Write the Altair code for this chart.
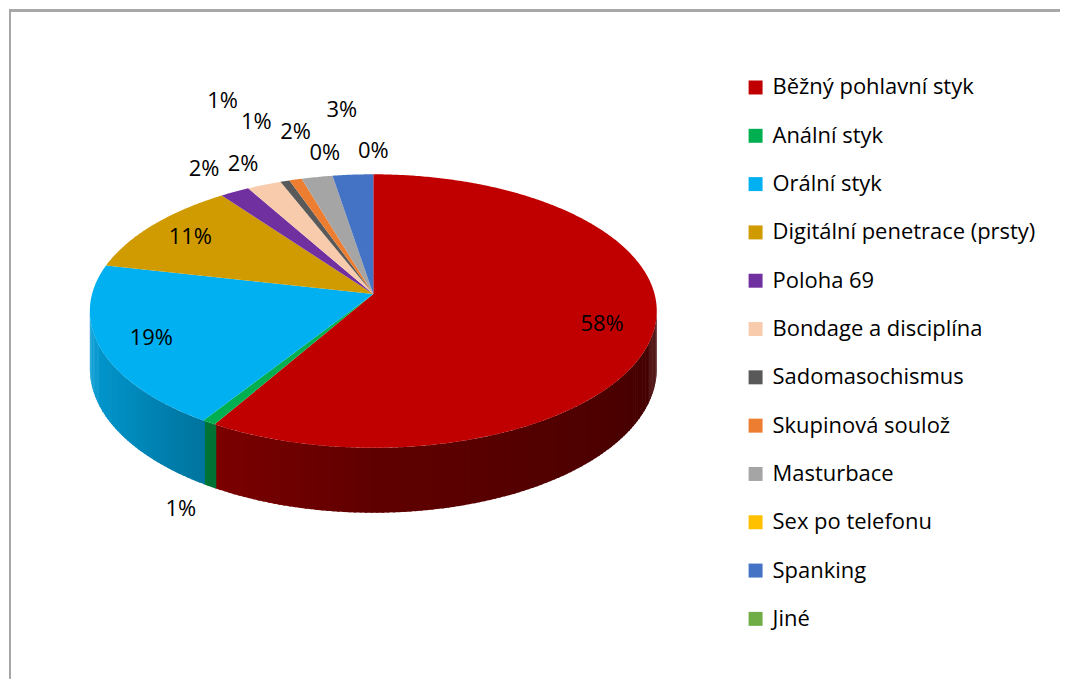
import math
import altair as alt
import pandas as pd

# ---------------- data ----------------
categories = [
    "Běžný pohlavní styk", "Anální styk", "Orální styk",
    "Digitální penetrace (prsty)", "Poloha 69", "Bondage a disciplína",
    "Sadomasochismus", "Skupinová soulož", "Masturbace",
    "Sex po telefonu", "Spanking", "Jiné",
]
values = [58.4, 0.7, 19.4, 11.4, 1.9, 2.2, 0.6, 0.8, 2.0, 0.0, 2.6, 0.0]
colors = [
    "#C00000", "#00B050", "#00B0F0", "#D09B00", "#7030A0", "#F8CBAD",
    "#595959", "#ED7D31", "#A5A5A5", "#FFC000", "#4472C4", "#70AD47",
]
# data-label distance from the pie centre (fraction of the radius)
label_radius = [0.82, 1.15, 0.82, 0.82, 1.25, 1.22, 1.86, 1.6, 1.45, 1.22, 1.65, 1.22]

# ---------------- layout / 3D look ----------------
W, H = 1053, 670          # plot area (page offset 8px)
CX, CY = 365.0, 285.0     # pie apex
A, B, K = 281.8, 134.9, 0.124   # horizontal, vertical radius, perspective
D = 57.0                  # depth of the pie side
FONT = "Open Sans"
FS = 22

total = sum(values)


def proj(theta_deg, f=1.0, z=0.0):
    t = math.radians(theta_deg)
    u = f * math.sin(t)
    v = -f * math.cos(t)
    d = 1 - K * v
    return CX + A * u / d, CY + B * v / d + z * D / d


shade_pts = [(97, 0.33), (180, 0.50), (212, 0.66), (235, 0.80), (263, 0.90)]


def shade(hexcol, ang):
    if ang <= shade_pts[0][0]:
        s = shade_pts[0][1]
    elif ang >= shade_pts[-1][0]:
        s = shade_pts[-1][1]
    else:
        for (a0, s0), (a1, s1) in zip(shade_pts[:-1], shade_pts[1:]):
            if a0 <= ang <= a1:
                s = s0 + (s1 - s0) * (ang - a0) / (a1 - a0)
                break
    r = int(hexcol[1:3], 16); g = int(hexcol[3:5], 16); b = int(hexcol[5:7], 16)
    return "#%02x%02x%02x" % (int(r * s), int(g * s), int(b * s))


# slice boundaries (clockwise from 12 o'clock)
bounds = []
cum = 0.0
for v in values:
    t0 = cum / total * 360
    cum += v
    t1 = cum / total * 360
    bounds.append((t0, t1))

# top faces
top_rows = []
for i, (t0, t1) in enumerate(bounds):
    n = max(2, int(math.ceil((t1 - t0) / 0.5)) + 1)
    pts = [(CX, CY)] + [proj(t0 + (t1 - t0) * j / (n - 1)) for j in range(n)]
    for k, (x, y) in enumerate(pts):
        top_rows.append(dict(cat=categories[i], k=k, x=x, y=y))
top_df = pd.DataFrame(top_rows)

# side wall strips (slightly overlapping so no seams show)
TS1 = math.degrees(math.acos(-K))
TS2 = 360 - TS1
side_rows = []
sid = 0
for i, (t0, t1) in enumerate(bounds):
    a = max(t0, TS1)
    b = min(t1, TS2)
    if b <= a:
        continue
    n = max(1, int(math.ceil((b - a) / 1.0)))
    for j in range(n):
        s0 = a + (b - a) * j / n
        s1 = a + (b - a) * (j + 1) / n
        col = shade(colors[i], (s0 + s1) / 2)
        e0 = max(TS1, s0 - 0.35)
        quad = [proj(e0), proj(s1), proj(s1, z=1), proj(e0, z=1)]
        for k, (x, y) in enumerate(quad):
            side_rows.append(dict(sid=sid, k=k, x=x, y=y, col=col))
        sid += 1
side_df = pd.DataFrame(side_rows)

# data labels
lab_rows = []
for i, (t0, t1) in enumerate(bounds):
    m = (t0 + t1) / 2
    p = values[i] / total
    txt = f"{int(round(p * 100 + 1e-9))}%"
    front = math.cos(math.radians(m)) < 0 and label_radius[i] > 1
    x, y = proj(m, label_radius[i], z=1 if front else 0)
    lab_rows.append(dict(x=x, y=y, t=txt))
lab_df = pd.DataFrame(lab_rows)

# ---------------- chart ----------------
xs = alt.X("x:Q", scale=alt.Scale(domain=[0, W], nice=False, zero=False), axis=None)
ys = alt.Y("y:Q", scale=alt.Scale(domain=[0, H], nice=False, zero=False, reverse=True), axis=None)

side = alt.Chart(side_df).mark_line(filled=True, strokeWidth=0).encode(
    x=xs, y=ys,
    detail="sid:N",
    order="k:Q",
    fill=alt.Fill("col:N", scale=None),
)

top = alt.Chart(top_df).mark_line(filled=True, strokeWidth=0).encode(
    x=xs, y=ys,
    detail="cat:N",
    order="k:Q",
    color=alt.Color(
        "cat:N",
        scale=alt.Scale(domain=categories, range=colors),
        sort=categories,
        legend=alt.Legend(
            title=None, orient="none", legendX=737, legendY=67,
            symbolType="square", symbolSize=196, symbolStrokeWidth=0,
            symbolOpacity=1, labelFont=FONT, labelFontSize=FS,
            labelColor="black", rowPadding=26.4, labelOffset=6,
            labelLimit=400,
        ),
    ),
)

labels = alt.Chart(lab_df).mark_text(
    font=FONT, fontSize=FS, color="black", align="center", baseline="middle"
).encode(x=xs, y=ys, text="t:N")

border_left = alt.Chart(lab_df).mark_rule(color="#a6a6a6", strokeWidth=1.5).encode(
    x=alt.value(0.75), y=alt.value(0), y2=alt.value(H)
)
border_top = alt.Chart(lab_df).mark_rule(color="#a6a6a6", strokeWidth=1.5).encode(
    y=alt.value(0.75), x=alt.value(0), x2=alt.value(W)
)

chart = alt.layer(side, top, labels, border_left, border_top).properties(
    width=W, height=H, padding=0
).configure_view(stroke=None)

chart.save("out.html", embed_options={"renderer": "svg", "actions": False})
